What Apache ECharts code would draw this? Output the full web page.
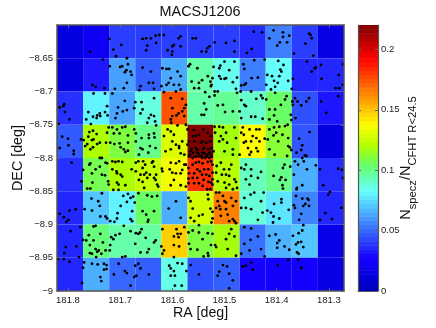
<!DOCTYPE html>
<html>
<head>
<meta charset="utf-8">
<style>html,body{margin:0;padding:0;background:#fff}#main{width:436px;height:328px}</style>
<script src="https://cdn.jsdelivr.net/npm/echarts@6/dist/echarts.min.js"></script>
</head>
<body>
<div id="main"></div>
<script>
var raTicks = [181.8, 181.7, 181.6, 181.5, 181.4, 181.3];
var decTicks = [-8.65, -8.7, -8.75, -8.8, -8.85, -8.9, -8.95, -9];
var barTicks = [0, 0.05, 0.1, 0.15, 0.2];
var raMin = 181.271, raMax = 181.821, decMin = -9.0, decMax = -8.6, barMax = 0.2202;
// left edge of each column, top edge of each row
var raEdges = [181.821, 181.771, 181.721, 181.671, 181.621, 181.571, 181.521, 181.471, 181.421, 181.371, 181.321];
var decEdges = [-8.6, -8.65, -8.7, -8.75, -8.8, -8.85, -8.9, -8.95];
var cellValues = [
  [0.014, 0.022, 0.041, 0.041, 0.041, 0.041, 0.041, 0.037, 0.055, 0.041, 0.016],
  [0.014, 0.033, 0.062, 0.048, 0.064, 0.095, 0.085, 0.055, 0.083, 0.036, 0.036],
  [0.038, 0.080, 0.063, 0.087, 0.175, 0.095, 0.098, 0.090, 0.105, 0.045, 0.032],
  [0.047, 0.120, 0.110, 0.100, 0.130, 0.220, 0.118, 0.138, 0.112, 0.046, 0.014],
  [0.038, 0.108, 0.120, 0.125, 0.135, 0.182, 0.122, 0.092, 0.100, 0.065, 0.037],
  [0.036, 0.070, 0.080, 0.105, 0.065, 0.128, 0.165, 0.088, 0.077, 0.056, 0.036],
  [0.036, 0.102, 0.095, 0.096, 0.148, 0.110, 0.118, 0.052, 0.066, 0.070, 0.017],
  [0.036, 0.065, 0.050, 0.048, 0.086, 0.045, 0.048, 0.028, 0.024, 0.025, 0.016]
];
var galaxies = [
[181.721,-8.621],[181.758,-8.640],[181.713,-8.637],[181.698,-8.630],[181.708,-8.647],[181.733,-8.652],[181.687,-8.650],[181.720,-8.662],[181.685,-8.659],[181.696,-8.662],[181.700,-8.663],[181.688,-8.668],[181.691,-8.671],[181.753,-8.690],[181.747,-8.693],[181.730,-8.695],[181.729,-8.703],[181.751,-8.703],[181.710,-8.696],[181.715,-8.703],[181.693,-8.695],[181.687,-8.687],[181.725,-8.722],[181.729,-8.731],[181.739,-8.733],[181.744,-8.736],[181.752,-8.738],[181.738,-8.737],[181.724,-8.736],[181.761,-8.731],[181.765,-8.742],[181.745,-8.740],[181.704,-8.724],[181.691,-8.714],[181.706,-8.733],[181.709,-8.740],[181.695,-8.730],[181.687,-8.728],[181.807,-8.719],[181.809,-8.722],[181.816,-8.724],[181.806,-8.731],[181.797,-8.742],[181.818,-8.749],[181.756,-8.749],[181.722,-8.754],[181.706,-8.757],[181.725,-8.762],[181.759,-8.761],[181.752,-8.759],[181.745,-8.764],[181.761,-8.768],[181.754,-8.773],[181.775,-8.772],[181.770,-8.773],[181.751,-8.772],[181.763,-8.779],[181.744,-8.779],[181.752,-8.784],[181.739,-8.777],[181.727,-8.777],[181.719,-8.777],[181.712,-8.763],[181.701,-8.763],[181.690,-8.753],[181.696,-8.754],[181.685,-8.766],[181.711,-8.779],[181.701,-8.778],[181.699,-8.784],[181.693,-8.787],[181.685,-8.789],[181.690,-8.791],[181.811,-8.768],[181.800,-8.771],[181.799,-8.781],[181.816,-8.785],[181.789,-8.789],[181.789,-8.794],[181.757,-8.787],[181.735,-8.800],[181.739,-8.800],[181.767,-8.782],[181.685,-8.777],[181.715,-8.754],
[181.657,-8.621],[181.650,-8.620],[181.641,-8.620],[181.632,-8.616],[181.625,-8.615],[181.616,-8.615],[181.588,-8.620],[181.584,-8.617],[181.561,-8.620],[181.555,-8.620],[181.631,-8.627],[181.648,-8.631],[181.650,-8.638],[181.597,-8.630],[181.600,-8.632],[181.584,-8.632],[181.609,-8.638],[181.600,-8.640],[181.601,-8.645],[181.657,-8.664],[181.641,-8.670],[181.619,-8.665],[181.611,-8.666],[181.606,-8.666],[181.590,-8.670],[181.603,-8.680],[181.584,-8.677],[181.566,-8.659],[181.569,-8.662],[181.552,-8.665],[181.645,-8.687],[181.637,-8.687],[181.635,-8.696],[181.661,-8.692],[181.663,-8.698],[181.621,-8.692],[181.611,-8.690],[181.607,-8.687],[181.597,-8.690],[181.587,-8.690],[181.584,-8.697],[181.593,-8.700],[181.616,-8.701],[181.563,-8.685],[181.549,-8.687],[181.558,-8.695],[181.549,-8.695],[181.680,-8.670],[181.678,-8.675],[181.671,-8.716],[181.673,-8.725],[181.659,-8.716],[181.635,-8.710],[181.657,-8.727],[181.661,-8.733],[181.641,-8.735],[181.645,-8.740],[181.635,-8.737],[181.648,-8.747],[181.633,-8.745],[181.631,-8.751],[181.603,-8.710],[181.600,-8.725],[181.581,-8.711],[181.577,-8.725],[181.574,-8.720],[181.581,-8.730],[181.588,-8.733],[181.592,-8.736],[181.600,-8.737],[181.603,-8.742],[181.602,-8.747],[181.577,-8.737],[181.574,-8.750],[181.590,-8.751],[181.571,-8.757],[181.561,-8.767],[181.673,-8.757],[181.670,-8.763],[181.670,-8.775],[181.659,-8.770],[181.645,-8.765],[181.645,-8.770],[181.635,-8.763],[181.634,-8.769],[181.661,-8.785],[181.657,-8.787],[181.632,-8.785],[181.643,-8.782],[181.646,-8.792],[181.664,-8.795],[181.609,-8.757],[181.603,-8.760],[181.616,-8.767],[181.597,-8.765],[181.600,-8.775],[181.603,-8.787],[181.613,-8.790],[181.593,-8.780],[181.587,-8.782],[181.581,-8.775],[181.587,-8.785],[181.577,-8.795],[181.584,-8.793],[181.571,-8.780],[181.568,-8.775],[181.558,-8.775],[181.555,-8.785],[181.565,-8.790],[181.552,-8.792],[181.568,-8.797],[181.561,-8.800],[181.549,-8.797],[181.545,-8.777],[181.549,-8.765],[181.555,-8.767],[181.559,-8.758],
[181.519,-8.626],[181.497,-8.627],[181.481,-8.624],[181.444,-8.610],[181.428,-8.611],[181.448,-8.636],[181.481,-8.640],[181.457,-8.642],[181.414,-8.620],[181.529,-8.632],[181.533,-8.635],[181.535,-8.640],[181.544,-8.640],[181.500,-8.655],[181.481,-8.655],[181.521,-8.663],[181.508,-8.661],[181.510,-8.665],[181.464,-8.659],[181.462,-8.666],[181.491,-8.668],[181.443,-8.653],[181.423,-8.652],[181.510,-8.677],[181.507,-8.681],[181.500,-8.681],[181.497,-8.680],[181.476,-8.679],[181.448,-8.680],[181.436,-8.679],[181.418,-8.675],[181.543,-8.683],[181.532,-8.677],[181.523,-8.680],[181.527,-8.685],[181.525,-8.690],[181.526,-8.692],[181.519,-8.700],[181.513,-8.700],[181.537,-8.701],[181.478,-8.696],[181.484,-8.686],[181.462,-8.690],[181.468,-8.691],[181.469,-8.700],[181.476,-8.702],[181.459,-8.688],[181.449,-8.700],[181.420,-8.690],[181.409,-8.677],[181.411,-8.697],[181.430,-8.706],[181.427,-8.710],[181.420,-8.712],[181.462,-8.720],[181.439,-8.711],[181.468,-8.713],[181.529,-8.708],[181.519,-8.706],[181.513,-8.721],[181.539,-8.718],[181.535,-8.727],[181.539,-8.735],[181.544,-8.735],[181.503,-8.720],[181.499,-8.731],[181.471,-8.730],[181.459,-8.722],[181.484,-8.730],[181.468,-8.740],[181.449,-8.738],[181.441,-8.738],[181.427,-8.741],[181.414,-8.742],[181.414,-8.727],[181.519,-8.753],[181.510,-8.753],[181.503,-8.754],[181.518,-8.762],[181.497,-8.762],[181.507,-8.767],[181.503,-8.772],[181.510,-8.775],[181.495,-8.777],[181.478,-8.770],[181.468,-8.762],[181.463,-8.765],[181.452,-8.757],[181.439,-8.757],[181.433,-8.757],[181.446,-8.767],[181.439,-8.770],[181.433,-8.775],[181.423,-8.771],[181.449,-8.775],[181.459,-8.775],[181.463,-8.777],[181.455,-8.785],[181.439,-8.785],[181.436,-8.790],[181.449,-8.791],[181.452,-8.795],[181.471,-8.795],[181.500,-8.790],[181.484,-8.795],[181.484,-8.787],[181.481,-8.754],[181.465,-8.754],[181.414,-8.757],[181.417,-8.772],[181.414,-8.787],
[181.540,-8.757],[181.532,-8.762],[181.526,-8.767],[181.542,-8.775],[181.535,-8.777],[181.527,-8.775],[181.539,-8.785],[181.531,-8.787],[181.525,-8.785],[181.542,-8.792],[181.533,-8.795],[181.526,-8.795],[181.521,-8.790],[181.529,-8.800],[181.537,-8.800],[181.543,-8.800],[181.566,-8.795],[181.560,-8.792],[181.555,-8.798],[181.549,-8.794],[181.544,-8.797],[181.538,-8.793],[181.534,-8.798],[181.529,-8.792],[181.525,-8.798],[181.563,-8.786],[181.552,-8.788],[181.541,-8.786],
[181.388,-8.611],[181.406,-8.608],[181.376,-8.616],[181.394,-8.626],[181.380,-8.626],[181.388,-8.618],[181.399,-8.631],[181.338,-8.613],[181.335,-8.615],[181.333,-8.620],[181.345,-8.628],[181.367,-8.643],[181.330,-8.646],[181.342,-8.655],[181.315,-8.660],[181.325,-8.664],[181.327,-8.665],[181.333,-8.670],[181.397,-8.654],[181.387,-8.660],[181.393,-8.667],[181.391,-8.670],[181.395,-8.677],[181.369,-8.681],[181.405,-8.684],[181.378,-8.684],[181.398,-8.687],[181.403,-8.693],[181.371,-8.696],[181.314,-8.681],[181.281,-8.675],[181.287,-8.695],[181.280,-8.695],[181.273,-8.659],[181.273,-8.690],[181.403,-8.702],[181.381,-8.707],[181.384,-8.712],[181.365,-8.710],[181.370,-8.715],[181.360,-8.715],[181.369,-8.720],[181.353,-8.721],[181.343,-8.715],[181.338,-8.710],[181.392,-8.720],[181.403,-8.727],[181.405,-8.736],[181.373,-8.735],[181.364,-8.740],[181.315,-8.715],[181.282,-8.707],[181.305,-8.732],[181.399,-8.745],[181.405,-8.754],[181.395,-8.753],[181.384,-8.752],[181.379,-8.750],[181.372,-8.743],[181.337,-8.761],[181.389,-8.765],[181.401,-8.762],[181.406,-8.766],[181.378,-8.770],[181.397,-8.775],[181.357,-8.771],[181.351,-8.781],[181.378,-8.782],[181.375,-8.784],[181.353,-8.788],[181.362,-8.792],[181.346,-8.796],[181.343,-8.797],[181.404,-8.795],[181.380,-8.797],[181.372,-8.788],[181.351,-8.800],
[181.793,-8.807],[181.757,-8.808],[181.759,-8.810],[181.739,-8.813],[181.728,-8.807],[181.725,-8.808],[181.715,-8.805],[181.709,-8.806],[181.703,-8.805],[181.696,-8.806],[181.771,-8.818],[181.747,-8.817],[181.754,-8.823],[181.735,-8.825],[181.729,-8.826],[181.715,-8.817],[181.707,-8.820],[181.706,-8.823],[181.699,-8.825],[181.696,-8.828],[181.774,-8.835],[181.723,-8.835],[181.722,-8.840],[181.706,-8.837],[181.703,-8.840],[181.753,-8.837],[181.763,-8.846],[181.757,-8.846],[181.690,-8.841],[181.703,-8.848],[181.713,-8.848],[181.735,-8.853],[181.755,-8.861],[181.742,-8.865],[181.694,-8.857],[181.685,-8.854],[181.687,-8.866],[181.739,-8.872],[181.699,-8.872],[181.705,-8.883],[181.738,-8.888],[181.728,-8.888],[181.725,-8.891],[181.719,-8.895],[181.706,-8.891],[181.711,-8.896],[181.768,-8.877],[181.754,-8.879],[181.785,-8.877],[181.797,-8.879],[181.816,-8.884],[181.808,-8.889],[181.799,-8.893],[181.803,-8.896],[181.776,-8.904],[181.747,-8.902],[181.751,-8.903],[181.795,-8.910],[181.760,-8.916],[181.738,-8.914],[181.765,-8.924],[181.751,-8.924],[181.758,-8.931],[181.733,-8.927],[181.717,-8.919],[181.709,-8.916],[181.701,-8.914],[181.713,-8.922],[181.693,-8.902],[181.771,-8.923],[181.784,-8.933],[181.804,-8.934],[181.747,-8.937],[181.744,-8.941],[181.741,-8.939],[181.736,-8.944],[181.728,-8.939],[181.720,-8.939],[181.719,-8.931],[181.758,-8.943],[181.754,-8.944],[181.746,-8.949],[181.807,-8.943],[181.819,-8.952],[181.808,-8.952],[181.779,-8.949],[181.797,-8.956],[181.769,-8.957],[181.754,-8.959],[181.743,-8.960],[181.731,-8.959],[181.726,-8.961],[181.703,-8.959],[181.696,-8.949],[181.690,-8.948],[181.771,-8.965],[181.731,-8.968],[181.726,-8.967],[181.712,-8.975],[181.691,-8.970],[181.687,-8.973],[181.738,-8.979],[181.736,-8.985],[181.773,-8.988],
[181.665,-8.805],[181.656,-8.805],[181.670,-8.807],[181.678,-8.817],[181.670,-8.820],[181.652,-8.810],[181.657,-8.815],[181.639,-8.807],[181.637,-8.805],[181.661,-8.825],[181.654,-8.825],[181.650,-8.822],[181.664,-8.833],[181.657,-8.836],[181.648,-8.830],[181.643,-8.825],[181.635,-8.813],[181.631,-8.825],[181.635,-8.830],[181.632,-8.833],[181.619,-8.820],[181.620,-8.816],[181.629,-8.840],[181.627,-8.843],[181.654,-8.845],[181.603,-8.807],[181.593,-8.808],[181.587,-8.805],[181.577,-8.810],[181.605,-8.817],[181.600,-8.822],[181.593,-8.823],[181.584,-8.823],[181.581,-8.818],[181.574,-8.810],[181.569,-8.815],[181.561,-8.810],[181.555,-8.807],[181.549,-8.806],[181.568,-8.823],[181.558,-8.823],[181.552,-8.817],[181.547,-8.820],[181.569,-8.831],[181.561,-8.830],[181.552,-8.830],[181.569,-8.838],[181.558,-8.838],[181.549,-8.838],[181.597,-8.833],[181.603,-8.841],[181.584,-8.841],[181.574,-8.843],[181.680,-8.860],[181.675,-8.858],[181.672,-8.867],[181.665,-8.853],[181.648,-8.856],[181.639,-8.858],[181.629,-8.857],[181.657,-8.880],[181.650,-8.885],[181.635,-8.880],[181.646,-8.893],[181.647,-8.896],[181.677,-8.880],[181.677,-8.895],[181.680,-8.892],[181.593,-8.865],[181.607,-8.876],[181.584,-8.890],[181.569,-8.860],[181.565,-8.865],[181.561,-8.876],[181.549,-8.887],[181.565,-8.890],[181.558,-8.895],[181.549,-8.901],[181.680,-8.910],[181.670,-8.913],[181.665,-8.914],[181.662,-8.912],[181.651,-8.920],[181.659,-8.907],[181.635,-8.927],[181.645,-8.937],[181.632,-8.924],[181.648,-8.942],[181.661,-8.942],[181.671,-8.929],[181.619,-8.907],[181.592,-8.907],[181.590,-8.914],[181.588,-8.919],[181.584,-8.914],[181.597,-8.918],[181.577,-8.904],[181.621,-8.933],[181.616,-8.939],[181.597,-8.931],[181.587,-8.933],[181.619,-8.944],[181.597,-8.949],[181.569,-8.912],[181.561,-8.909],[181.549,-8.912],[181.565,-8.937],[181.568,-8.929],[181.552,-8.938],[181.665,-8.959],[181.671,-8.962],[181.661,-8.966],[181.645,-8.975],[181.669,-8.977],[181.673,-8.979],[181.680,-8.992],[181.606,-8.962],[181.603,-8.966],[181.590,-8.958],[181.581,-8.959],[181.597,-8.970],[181.595,-8.977],[181.573,-8.970],[181.603,-8.977],[181.595,-8.992],[181.582,-8.992],[181.549,-8.975],[181.565,-8.961],
[181.542,-8.808],[181.532,-8.806],[181.526,-8.805],[181.539,-8.817],[181.531,-8.817],[181.543,-8.825],[181.535,-8.825],[181.529,-8.827],[181.523,-8.822],[181.540,-8.833],[181.531,-8.836],[181.526,-8.837],[181.523,-8.840],[181.542,-8.842],[181.533,-8.847],[181.527,-8.847],[181.523,-8.810],[181.523,-8.832],[181.515,-8.812],[181.507,-8.807],[181.501,-8.817],[181.516,-8.822],[181.505,-8.825],[181.497,-8.825],[181.491,-8.817],[181.487,-8.810],[181.491,-8.827],[181.513,-8.835],[181.500,-8.837],[181.491,-8.840],[181.481,-8.832],[181.478,-8.836],[181.468,-8.815],[181.462,-8.817],[181.459,-8.810],[181.449,-8.817],[181.430,-8.821],[181.449,-8.827],[181.452,-8.840],[181.459,-8.832],[181.436,-8.830],[181.484,-8.847],[181.497,-8.845],[181.476,-8.845],[181.443,-8.852],[181.450,-8.855],[181.462,-8.860],[181.425,-8.852],[181.430,-8.865],[181.516,-8.852],[181.510,-8.852],[181.503,-8.857],[181.500,-8.865],[181.510,-8.872],[181.516,-8.875],[181.497,-8.867],[181.513,-8.865],[181.487,-8.860],[181.484,-8.872],[181.497,-8.877],[181.532,-8.855],[181.531,-8.862],[181.527,-8.876],[181.523,-8.881],[181.523,-8.891],[181.525,-8.897],[181.508,-8.877],[181.507,-8.887],[181.494,-8.885],[181.491,-8.895],[181.481,-8.895],[181.478,-8.898],[181.484,-8.892],[181.478,-8.865],[181.468,-8.875],[181.459,-8.875],[181.449,-8.877],[181.436,-8.893],[181.427,-8.882],[181.418,-8.879],[181.411,-8.882],[181.407,-8.897],[181.542,-8.885],[181.542,-8.922],[181.532,-8.913],[181.523,-8.914],[181.526,-8.931],[181.518,-8.931],[181.531,-8.947],[181.532,-8.943],[181.540,-8.948],[181.516,-8.934],[181.497,-8.922],[181.494,-8.937],[181.491,-8.914],[181.487,-8.907],[181.481,-8.918],[181.478,-8.947],[181.468,-8.944],[181.462,-8.904],[181.449,-8.906],[181.436,-8.918],[181.450,-8.923],[181.462,-8.929],[181.430,-8.937],[181.452,-8.939],[181.423,-8.948],[181.414,-8.917],[181.459,-8.962],[181.465,-8.963],[181.449,-8.957],[181.446,-8.968],[181.491,-8.974],[181.503,-8.961],[181.495,-8.963],[181.510,-8.971],[181.513,-8.977],[181.484,-8.984],[181.491,-8.996],
[181.365,-8.805],[181.348,-8.805],[181.374,-8.813],[181.385,-8.810],[181.388,-8.815],[181.359,-8.810],[181.342,-8.817],[181.325,-8.811],[181.317,-8.817],[181.282,-8.816],[181.275,-8.818],[181.367,-8.825],[181.406,-8.827],[181.391,-8.829],[181.394,-8.833],[181.383,-8.833],[181.273,-8.830],[181.351,-8.841],[181.361,-8.845],[181.362,-8.847],[181.389,-8.841],[181.388,-8.846],[181.311,-8.841],[181.298,-8.851],[181.301,-8.855],[181.363,-8.857],[181.351,-8.861],[181.341,-8.861],[181.339,-8.863],[181.345,-8.869],[181.349,-8.872],[181.391,-8.862],[181.391,-8.867],[181.405,-8.869],[181.367,-8.871],[181.365,-8.875],[181.338,-8.872],[181.377,-8.878],[181.353,-8.884],[181.276,-8.875],[181.307,-8.883],[181.406,-8.888],[181.395,-8.891],[181.357,-8.893],[181.317,-8.893],[181.294,-8.892],[181.349,-8.901],[181.351,-8.909],[181.358,-8.913],[181.369,-8.917],[181.402,-8.915],[181.395,-8.924],[181.399,-8.928],[181.399,-8.935],[181.385,-8.933],[181.376,-8.938],[181.363,-8.930],[181.359,-8.927],[181.353,-8.926],[181.349,-8.934],[181.361,-8.942],[181.358,-8.944],[181.378,-8.953],[181.359,-8.953],[181.398,-8.961],[181.353,-8.965]
];

var frameColor = '#555';
var textFont = '"Liberation Sans", Arial, sans-serif';

// jet, with the red lifted through the blue-cyan part and the blue gone by yellow-green
function jetColor(v) {
  var t = Math.max(0, Math.min(1, v / barMax));
  var ramp = function (x) { return Math.max(0, Math.min(1, x)); };
  var r = ramp(Math.min(4 * t - 1.5, -4 * t + 4.5));
  var g = ramp(Math.min(4 * t - 0.5, -4 * t + 3.5));
  var b = t < 0.375 ? ramp(0.72 + 2.4 * t) : ramp(1 - (t - 0.375) / 0.17);
  var floor = t < 0.05 ? 0 : t < 0.25 ? (t - 0.05) * 1.2 : t < 0.375 ? 0.24 + (t - 0.25) * 1.25 : t < 0.6 ? 0.4 : 0;
  r = Math.max(r, floor);
  return 'rgb(' + Math.round(r * 255) + ',' + Math.round(g * 255) + ',' + Math.round(b * 255) + ')';
}

var cellData = [];
decEdges.forEach(function (dec, i) {
  raEdges.forEach(function (ra, j) {
    cellData.push([ra, dec, cellValues[i][j]]);
  });
});

var barLevels = [];
for (var k = 0; k < 64; k++) barLevels.push(k * barMax / 64);

function fmtDec(v) { return String(v).replace('-', '\u2212'); }

function posAxis(extra) {
  return Object.assign({
    type: 'value',
    z: 10,
    splitLine: { show: false },
    axisLine: { show: true, onZero: false, lineStyle: { color: frameColor, width: 1.5 } },
    axisTick: { show: true, inside: true, length: 3, lineStyle: { color: '#666', width: 1 } },
    axisLabel: { show: false, color: '#222', fontSize: 9.5, fontFamily: textFont }
  }, extra);
}

var chart = echarts.init(document.getElementById('main'), null, { renderer: 'canvas' });
chart.setOption({
  animation: false,
  backgroundColor: '#fff',
  title: {
    text: 'MACSJ1206',
    left: 195,
    top: 0,
    textAlign: 'center',
    textStyle: { fontSize: 14.4, fontWeight: 'normal', color: '#111', fontFamily: textFont }
  },
  grid: [
    { left: 57, top: 25, width: 287, height: 266, outerBoundsMode: 'none' },
    { left: 358, top: 25, width: 20, height: 266, outerBoundsMode: 'none' }
  ],
  xAxis: [
    posAxis({
      gridIndex: 0, position: 'bottom', inverse: true, min: raMin, max: raMax,
      name: 'RA [deg]', nameLocation: 'middle', nameGap: 15, nameMoveOverlap: false,
      nameTextStyle: { fontSize: 14.2, color: '#111', fontFamily: textFont },
      axisTick: { show: true, inside: true, length: 3, customValues: raTicks, lineStyle: { color: '#666' } },
      axisLabel: { show: true, color: '#222', fontSize: 9.5, fontFamily: textFont, margin: 4, customValues: raTicks, formatter: function (v) { return String(v); } }
    }),
    posAxis({
      gridIndex: 0, position: 'top', inverse: true, min: raMin, max: raMax,
      axisTick: { show: true, inside: true, length: 3, customValues: raTicks, lineStyle: { color: '#666' } }
    }),
    {
      type: 'value', gridIndex: 1, min: 0, max: 1, z: 10,
      splitLine: { show: false }, axisTick: { show: false }, axisLabel: { show: false },
      axisLine: { show: true, onZero: false, lineStyle: { color: frameColor, width: 1.2 } }
    }
  ],
  yAxis: [
    posAxis({
      gridIndex: 0, position: 'left', min: decMin, max: decMax,
      name: 'DEC [deg]', nameLocation: 'middle', nameGap: 32, nameMoveOverlap: false,
      nameTextStyle: { fontSize: 14.3, color: '#111', fontFamily: textFont },
      axisTick: { show: true, inside: true, length: 3, customValues: decTicks, lineStyle: { color: '#666' } },
      axisLabel: { show: true, color: '#222', fontSize: 9.5, fontFamily: textFont, margin: 4, customValues: decTicks, formatter: fmtDec }
    }),
    posAxis({
      gridIndex: 0, position: 'right', min: decMin, max: decMax,
      axisTick: { show: true, inside: true, length: 3, customValues: decTicks, lineStyle: { color: '#666' } }
    }),
    {
      type: 'value', gridIndex: 1, position: 'right', min: 0, max: barMax, z: 10,
      splitLine: { show: false },
      axisLine: { show: true, onZero: false, lineStyle: { color: frameColor, width: 1.2 } },
      axisTick: { show: true, inside: true, length: 3, customValues: barTicks, lineStyle: { color: '#666' } },
      axisLabel: { color: '#222', fontSize: 9.5, fontFamily: textFont, margin: 3, customValues: barTicks, formatter: function (v) { return String(v); } },
      name: '{n|N}{s|specz}{n|/N}{s|CFHT R<24.5}',
      nameLocation: 'middle',
      nameGap: 20,
      nameRotate: 90,
      nameMoveOverlap: false,
      nameTextStyle: {
        rich: {
          n: { fontSize: 14.5, color: '#111', fontFamily: textFont, lineHeight: 20, verticalAlign: 'bottom', padding: [0, 0, 5, 0] },
          s: { fontSize: 11.2, color: '#111', fontFamily: textFont, lineHeight: 12, verticalAlign: 'bottom' }
        }
      }
    },
    {
      type: 'value', gridIndex: 1, position: 'left', min: 0, max: barMax, z: 10,
      splitLine: { show: false }, axisLabel: { show: false },
      axisLine: { show: true, onZero: false, lineStyle: { color: frameColor, width: 1.2 } },
      axisTick: { show: true, inside: true, length: 3, customValues: barTicks, lineStyle: { color: '#666' } }
    }
  ],
  series: [
    {
      name: 'cells',
      type: 'custom',
      xAxisIndex: 0,
      yAxisIndex: 0,
      data: cellData,
      clip: true,
      renderItem: function (params, api) {
        var a = api.coord([api.value(0), api.value(1)]);
        var b = api.coord([api.value(0) - 0.05, api.value(1) - 0.05]);
        return {
          type: 'rect',
          shape: { x: a[0], y: a[1], width: b[0] - a[0], height: b[1] - a[1] },
          style: { fill: jetColor(api.value(2)), stroke: null }
        };
      }
    },
    {
      name: 'galaxies',
      type: 'scatter',
      xAxisIndex: 0,
      yAxisIndex: 0,
      data: galaxies,
      symbol: 'circle',
      symbolSize: 2.8,
      z: 5,
      itemStyle: { color: '#000', opacity: 1 },
      silent: true
    },
    {
      name: 'colorbar',
      type: 'custom',
      xAxisIndex: 2,
      yAxisIndex: 2,
      data: barLevels,
      renderItem: function (params, api) {
        var lo = api.value(0);
        var a = api.coord([0, lo + barMax / 64]);
        var b = api.coord([1, lo]);
        return {
          type: 'rect',
          shape: { x: a[0], y: a[1], width: b[0] - a[0], height: b[1] - a[1] + 0.5 },
          style: { fill: jetColor(lo + barMax / 128), stroke: null }
        };
      },
      encode: { x: -1, y: 0 }
    }
  ]
});
</script>
</body>
</html>
